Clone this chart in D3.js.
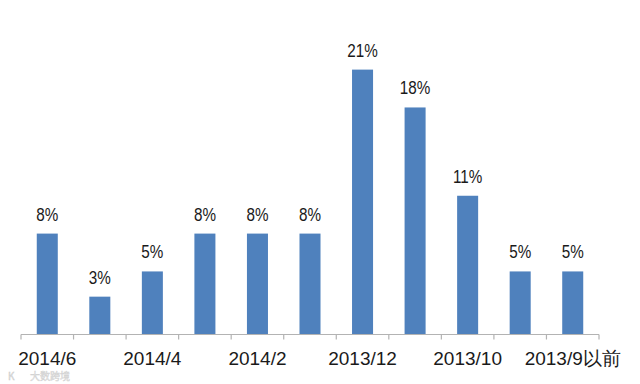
<!DOCTYPE html>
<html>
<head>
<meta charset="utf-8">
<script src="https://cdn.jsdelivr.net/npm/d3@7"></script>
<style>
  html, body { margin: 0; padding: 0; background: #fff; }
  svg { display: block; }
</style>
</head>
<body>
<svg id="chart" width="640" height="384"></svg>
<script>
const categories = ["2014/6", "2014/5", "2014/4", "2014/3", "2014/2", "2014/1", "2013/12", "2013/11", "2013/10", "2013/9", "2013/9以前"];
const values = [8, 3, 5, 8, 8, 8, 21, 18, 11, 5, 5];
const shownTickLabels = ["2014/6", "2014/4", "2014/2", "2013/12", "2013/10", "2013/9以前"];
const watermarkText = "大数跨境";

const svg = d3.select("#chart");
const left = 21, right = 599, baseY = 334.5, topY = 57;

const x = d3.scaleBand().domain(categories).range([left, right]).paddingInner(0.6).paddingOuter(0.3);
const y = d3.scaleLinear().domain([0, 22]).range([baseY, topY]);

const font = "'Liberation Sans', Arial, sans-serif";

// bars
svg.append("g").selectAll("rect").data(values).join("rect")
  .attr("x", (d, i) => x(categories[i]))
  .attr("y", d => y(d))
  .attr("width", x.bandwidth())
  .attr("height", d => y(0) - y(d))
  .attr("fill", "#4F81BD");

// value labels
svg.append("g").selectAll("text").data(values).join("text")
  .attr("transform", (d, i) => `translate(${x(categories[i]) + x.bandwidth() / 2},${y(d) - 13}) scale(0.87,1)`)
  .attr("text-anchor", "middle")
  .attr("font-family", font)
  .attr("font-size", 17.5)
  .attr("fill", "#1a1a1a")
  .text(d => d + "%");

// axis with ticks at band boundaries
const bounds = d3.range(categories.length + 1).map(i => left + i * (right - left) / categories.length);
const axisG = svg.append("g");
axisG.append("line")
  .attr("x1", left).attr("x2", right)
  .attr("y1", baseY).attr("y2", baseY)
  .attr("stroke", "#b3b3b3").attr("stroke-width", 1.2);
axisG.selectAll("line.tick").data(bounds).join("line")
  .attr("class", "tick")
  .attr("x1", d => d).attr("x2", d => d)
  .attr("y1", baseY).attr("y2", baseY + 5)
  .attr("stroke", "#b3b3b3").attr("stroke-width", 1.2);

axisG.selectAll("text").data(categories.filter(c => shownTickLabels.includes(c))).join("text")
  .attr("x", d => x(d) + x.bandwidth() / 2)
  .attr("y", 364.5)
  .attr("text-anchor", "middle")
  .attr("font-family", font)
  .attr("font-size", 19)
  .attr("fill", "#1a1a1a")
  .text(d => d);

// watermark
const wm = svg.append("g").attr("opacity", 0.55);
wm.append("text")
  .attr("x", 8).attr("y", 379.5)
  .attr("font-family", "'Noto Sans CJK SC', sans-serif")
  .attr("font-size", 10)
  .attr("fill", "#c8c8c8")
  .attr("stroke", "#9a9a9a").attr("stroke-width", 0.4)
  .text("K");
wm.append("text")
  .attr("x", 30).attr("y", 379.5)
  .attr("font-family", "'Noto Sans CJK SC', sans-serif")
  .attr("font-size", 10)
  .attr("fill", "#d8d8d8")
  .attr("stroke", "#a8a8a8").attr("stroke-width", 0.4)
  .text(watermarkText);
</script>
</body>
</html>
